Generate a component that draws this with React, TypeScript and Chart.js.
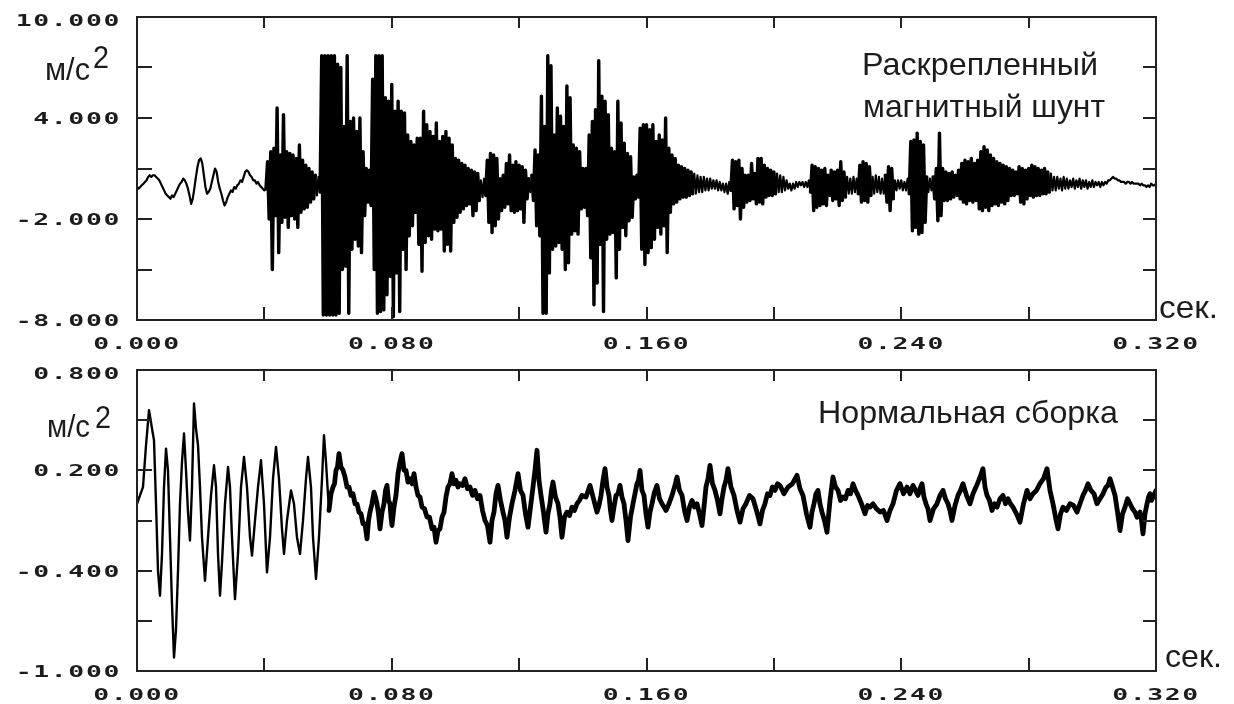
import { useEffect, useRef } from "react";
import { Chart, registerables } from "chart.js";

Chart.register(...registerables);

// ---------- data ----------
const SAMPLE_STEP = 0.0005; // s, sampling step of the upper record

// Upper record ("Раскрепленный магнитный шунт"), m/s², 0.04 s per block
const topSeg0 = [-0.1,-0.2,-0.1,0.0,0.1, 0.2,0.3,0.5,0.6,0.5, 0.6,0.6,0.5,0.4,0.3, 0.1,-0.1,-0.3,-0.5,-0.6, -0.7,-0.8,-0.6,-0.7,-0.5, -0.3,-0.1,0.1,0.2,0.4, 0.3,0.1,-0.2,-0.6,-1.1, -0.8,-0.2,0.5,1.1,1.5, 1.6,1.3,0.6,-0.1,-0.5, -0.4,-0.2,0.2,0.6,1.0, 0.8,0.2,-0.2,-0.5,-0.9, -1.2,-1.0,-0.7,-0.5,-0.3, -0.4,-0.1,-0.2,0.0,0.1, 0.3,0.2,0.5,0.8,0.9, 0.8,0.6,0.5,0.3,0.3, 0.1,0.2,0.0,-0.1,-0.2];
const topSeg1 = [-0.3,-0.2,1.4,-2.0,2.0,-5.0,2.2,-1.8,4.6,-4.0, 1.8,-2.2,4.2,-1.9,2.0,-2.5,1.9,-1.8,1.8,-2.0, 1.6,-2.5,2.4,-1.6,1.5,-1.4,1.2,-1.3,1.0,-1.0, 0.8,-0.8,0.6,-0.6,0.5,-0.4,7.7,-7.7,7.7,-7.7, 7.7,-7.7,7.7,-7.7,7.7,-7.7,7.2,-7.6,7.0,-5.0, 3.5,-4.8,7.7,-7.6,3.8,-3.8,4.0,-3.2,3.2,-3.6, 4.0,-4.0,2.0,-1.8,1.0,-1.0,0.9,-1.2,6.3,-5.0, 7.7,-7.6,7.7,-7.5,7.7,-7.4,5.2,-6.5,5.0,-5.4];
const topSeg2 = [6.0,-7.8,4.4,-5.2,5.0,-7.5,4.4,-3.8,4.3,-5.0, 3.0,-3.0,2.6,-2.4,2.4,-1.6,2.8,-3.5,2.8,-5.1, 4.4,-3.4,3.6,-3.0,3.2,-3.2,2.9,-2.6,3.7,-2.7, 2.6,-2.6,2.9,-3.9,3.2,-3.5,2.8,-3.9,2.4,-2.2, 1.6,-1.9,1.5,-1.6,1.3,-1.4,1.2,-1.2,1.0,-1.1, 0.9,-1.8,0.8,-1.5,0.7,-0.9,0.3,-0.7,0.4,-0.6, 1.5,-2.2,1.9,-2.8,1.8,-2.4,1.6,-2.0,0.4,-1.5, 0.6,-1.3,1.3,-1.1,1.8,-1.5,1.2,-1.6,1.4,-1.5];
const topSeg3 = [1.2,-1.4,1.1,-2.2,0.9,-0.8,0.4,-0.4,0.6,-0.9, 2.1,-2.4,1.8,-3.0,5.3,-7.6,3.5,-7.6,7.7,-5.2, 7.1,-3.8,3.0,-3.6,4.6,-3.4,4.1,-3.8,3.5,-5.0, 5.9,-4.6,5.2,-2.9,2.4,-2.7,2.2,-2.9,2.0,-1.4, 1.0,-1.3,1.0,-1.8,3.0,-4.3,3.8,-7.1,4.5,-5.8, 7.4,-3.5,5.3,-7.5,5.0,-3.2,4.2,-2.9,2.2,-2.8, 2.0,-5.5,5.0,-3.8,3.7,-2.5,2.5,-3.0,1.9,-2.1, 1.7,-1.9,0.5,-0.8,0.6,-0.7,3.4,-3.8,3.6,-4.7];
const topSeg4 = [3.6,-4.0,3.3,-3.7,3.6,-3.2,2.6,-2.5,3.0,-2.9, 2.7,-2.4,4.0,-4.0,2.2,-1.6,1.8,-1.1,1.6,-1.0, 1.2,-0.8,1.1,-0.7,1.0,-0.7,0.9,-0.6,0.8,-0.5, 0.7,-0.5,0.6,-0.4,0.5,-0.4,0.5,-0.3,0.4,-0.3, 0.4,-0.2,0.3,-0.2,0.3,-0.3,0.2,-0.3,0.1,-0.4, 0.1,-0.5,0.2,-0.3,1.5,-1.4,1.4,-1.2,1.5,-2.0, 1.0,-1.3,0.6,-1.0,0.6,-0.9,1.3,-0.8,0.7,-1.1, 1.6,-1.0,1.6,-1.1,1.2,-0.7,1.0,-0.6,0.9,-0.6];
const topSeg5 = [0.8,-0.5,0.7,-0.4,0.6,-0.4,0.5,-0.3,0.3,-0.2, 0.1,-0.3,0.1,-0.2,0.2,-0.1,0.2,0.0,0.2,-0.1, 0.2,-0.1,0.3,-0.4,1.2,-1.5,1.1,-1.3,1.0,-1.2, 0.9,-1.1,1.0,-1.2,0.6,-0.6,0.9,-0.9,0.8,-0.8, 0.9,-1.2,1.4,-0.9,0.8,-0.7,0.5,-0.5,0.4,-0.5, 0.5,-0.4,0.4,-0.5,1.2,-1.0,1.4,-0.9,1.3,-1.0, 1.1,-0.6,0.5,-0.5,0.6,-0.4,0.5,-0.5,0.4,-0.5, 0.6,-1.0,1.1,-1.5,1.0,-0.8,0.3,-0.3,0.3,-0.2];
const topSeg6 = [0.3,-0.3,0.2,-0.3,0.4,-0.5,2.6,-2.7,2.7,-2.5, 3.1,-2.9,2.6,-2.8,2.4,-2.2,0.5,-0.4,0.4,-0.3, 0.5,-0.8,1.0,-2.1,3.1,-1.8,1.0,-0.9,0.8,-0.9, 0.7,-0.8,0.8,-0.7,0.6,-0.6,0.9,-0.8,1.3,-1.0, 1.5,-1.1,1.4,-0.9,1.6,-1.0,1.3,-0.9,1.5,-1.4, 2.0,-1.5,2.3,-1.3,2.1,-1.5,1.8,-1.2,1.6,-1.1, 1.4,-1.2,1.3,-1.0,1.2,-1.1,1.1,-0.9,1.0,-0.6, 0.9,-0.6,0.8,-0.5,1.1,-1.0,1.0,-1.1,0.9,-0.8];
const topSeg7 = [1.0,-0.6,1.2,-0.7,1.1,-0.6,1.0,-0.6,0.9,-0.5, 1.0,-0.5,0.8,-0.4,0.7,-0.3,0.5,-0.3,0.5,-0.2, 0.4,-0.3,0.5,-0.2,0.4,-0.2,0.3,-0.1,0.4,-0.2, 0.3,-0.1,0.4,-0.2,0.3,-0.1,0.3,-0.2,0.2,-0.1, 0.3,-0.1,0.2,0.0,0.2,-0.1,0.2,0.0,0.2,0.1, 0.3,0.3,0.4,0.5,0.4,0.4,0.3,0.3,0.2,0.2, 0.2,0.1,0.2,0.2,0.1,0.2,0.1,0.1,0.1,0.1, 0.0,0.1,0.0,0.0,-0.1,0.0,-0.1,0.1,0.0,0.0,0.1];

// Lower record ("Нормальная сборка"): decaying impact part, time s / value m/s²
const bottomTimesA = [0,0.00094,0.00188,0.00283,0.00377,0.00471,0.00534,0.00597,0.00659,0.00722,0.00785,0.00848,0.00911,0.00973,0.01036,0.01099,0.01162,0.01225,0.01288,0.0135,0.01413,0.01476,0.01539,0.01602,0.01664,0.01727,0.0179,0.01853,0.01916,0.01978,0.02041,0.02135,0.0223,0.02324,0.02418,0.02481,0.02544,0.02606,0.02669,0.02763,0.02858,0.0292,0.02983,0.03077,0.03172,0.03266,0.0336,0.03454,0.03549,0.03611,0.03706,0.038,0.03894,0.03988,0.04082,0.04177,0.04271,0.04365,0.04459,0.04553,0.04616,0.0471,0.04836,0.0493,0.05024,0.05119,0.05213,0.05307,0.0537,0.05464,0.05527,0.05621,0.05715,0.0581,0.05872,0.05935,0.06029];
const bottomValuesA = [0.0,0.05,0.1,0.35,0.56,0.45,0.38,0.0,-0.4,-0.55,-0.3,0.1,0.33,0.2,-0.2,-0.6,-0.92,-0.75,-0.4,0.0,0.25,0.42,0.2,-0.05,-0.22,0.1,0.6,0.45,0.35,0.1,-0.2,-0.46,-0.2,0.05,0.23,0.1,-0.3,-0.55,-0.35,0.0,0.22,0.1,-0.2,-0.57,-0.3,0.1,0.28,0.1,-0.2,-0.31,-0.1,0.1,0.26,0.0,-0.41,-0.2,0.15,0.34,0.15,-0.15,-0.3,-0.1,0.08,0.0,-0.2,-0.3,-0.1,0.15,0.28,0.1,-0.2,-0.45,-0.2,0.15,0.41,0.25,-0.04];
// steady noisy part
const bottomTimesB = [0.06092,0.06155,0.06202,0.06249,0.06296,0.06343,0.06406,0.06469,0.06532,0.06595,0.06658,0.0672,0.06783,0.06846,0.06908,0.06971,0.07034,0.07097,0.0716,0.07223,0.0727,0.07317,0.0738,0.07443,0.0749,0.07537,0.07584,0.07631,0.07694,0.07757,0.07804,0.07851,0.07898,0.07945,0.07976,0.08008,0.0807,0.08133,0.08196,0.08259,0.08322,0.08385,0.08447,0.0851,0.08573,0.08636,0.08699,0.08762,0.08824,0.08887,0.0895,0.09028,0.09107,0.09185,0.09264,0.09327,0.0939,0.09452,0.09515,0.09578,0.09641,0.09703,0.09766,0.09829,0.09892,0.09955,0.10018,0.1008,0.10143,0.10222,0.103,0.10379,0.10457,0.10535,0.10614,0.10692,0.10771,0.10849,0.10928,0.11006,0.11085,0.11148,0.11211,0.11274,0.11336,0.11415,0.11494,0.11556,0.11619,0.11698,0.11776,0.1187,0.11965,0.12043,0.12122,0.122,0.12279,0.12357,0.12436,0.12498,0.12561,0.12624,0.12687,0.12765,0.12844,0.12906,0.12969,0.13016,0.13064,0.13142,0.13221,0.13283,0.13346,0.13425,0.13503,0.13581,0.1366,0.13738,0.13817,0.13895,0.13974,0.141,0.14226,0.14335,0.14445,0.14508,0.14571,0.14634,0.14697,0.14759,0.14822,0.14869,0.14916,0.14979,0.15042,0.15105,0.15168,0.1523,0.15293,0.15356,0.15419,0.15497,0.15576,0.15638,0.15701,0.15748,0.15796,0.15858,0.15921,0.15984,0.16047,0.16109,0.16172,0.16251,0.16329,0.16408,0.16487,0.1655,0.16612,0.16706,0.16801,0.1688,0.16958,0.17036,0.17115,0.17193,0.17272,0.1735,0.17429,0.17507,0.17586,0.17664,0.17743,0.17805,0.17868,0.17931,0.17994,0.18072,0.18151,0.18229,0.18308,0.18371,0.18434,0.18496,0.18559,0.18653,0.18748,0.18842,0.18936,0.1903,0.19124,0.19234,0.19344,0.19454,0.19564,0.19642,0.19721,0.19799,0.19878,0.19956,0.20035,0.20113,0.20192,0.20317,0.20443,0.20584,0.20726,0.2082,0.20914,0.21024,0.21134,0.21197,0.2126,0.21322,0.21385,0.21448,0.21511,0.21589,0.21668,0.21762,0.21856,0.21935,0.22014,0.22092,0.22171,0.22249,0.22328,0.22406,0.22485,0.22563,0.22642,0.22752,0.22861,0.2294,0.23018,0.23113,0.23223,0.23333,0.23442,0.23552,0.23647,0.23741,0.23851,0.23961,0.2407,0.2418,0.24275,0.24369,0.24447,0.24526,0.24589,0.24651,0.24714,0.24777,0.2484,0.24903,0.25013,0.25122,0.25217,0.25311,0.2539,0.25468,0.2553,0.25593,0.25688,0.25782,0.2586,0.25939,0.26049,0.26159,0.26253,0.26347,0.26457,0.26567,0.2663,0.26693,0.26771,0.2685,0.26928,0.27007,0.27101,0.27195,0.27274,0.27352,0.2743,0.27509,0.27619,0.27729,0.27839,0.27949,0.28043,0.28137,0.28247,0.28357,0.28467,0.28577,0.28671,0.28765,0.28844,0.28923,0.29001,0.2908,0.2919,0.29299,0.29409,0.29519,0.29613,0.29707,0.29786,0.29864,0.29958,0.30053,0.30147,0.30242,0.30336,0.3043,0.30493,0.30556,0.30635,0.30713,0.30792,0.3087,0.30949,0.31027,0.31106,0.31184,0.31262,0.31341,0.31404,0.31498,0.31545,0.31592,0.31655,0.31718,0.31765,0.31812,0.31859,0.31906,0.31953,0.32];
const bottomValuesB = [0.06,0.1,0.12,0.2,0.22,0.3,0.22,0.2,0.16,0.1,0.1,0.05,0.06,0.0,0.0,-0.05,-0.06,-0.12,-0.12,-0.21,-0.1,-0.05,0.0,0.07,0.04,0.0,-0.06,-0.15,-0.05,0.0,0.08,0.11,0.02,0.0,-0.08,-0.13,-0.02,0.05,0.18,0.25,0.3,0.2,0.2,0.13,0.15,0.12,0.18,0.1,0.05,0.04,-0.02,-0.03,-0.08,-0.08,-0.15,-0.14,-0.23,-0.16,-0.15,-0.08,-0.05,0.04,0.1,0.12,0.18,0.12,0.14,0.1,0.12,0.11,0.15,0.09,0.1,0.05,0.08,0.03,0.05,-0.04,-0.1,-0.13,-0.23,-0.1,-0.05,0.06,0.11,0.02,-0.05,-0.1,-0.2,-0.08,0.0,0.08,0.18,0.08,0.05,-0.06,-0.14,-0.02,0.1,0.2,0.32,0.14,0.05,-0.05,-0.17,-0.06,0.0,0.08,0.13,0.04,0.0,-0.08,-0.2,-0.08,-0.05,-0.07,-0.02,-0.04,0.0,0.02,0.05,0.04,0.11,0.03,-0.05,-0.01,0.05,0.14,0.21,0.1,0.05,-0.04,-0.1,-0.02,0.05,0.06,0.11,0.04,0.0,-0.1,-0.22,-0.08,0.0,0.06,0.12,0.14,0.2,0.08,0.05,-0.06,-0.14,-0.05,0.0,0.07,0.11,0.03,0.0,-0.02,-0.04,0.0,0.05,0.1,0.16,0.08,0.05,-0.04,-0.1,-0.02,0.02,-0.02,0.0,-0.06,-0.13,-0.02,0.1,0.15,0.23,0.12,0.08,0.02,-0.06,0.03,0.1,0.14,0.21,0.1,0.05,-0.04,-0.11,-0.03,0.0,0.05,0.03,-0.04,-0.12,-0.04,0.0,0.06,0.05,0.1,0.08,0.12,0.11,0.06,0.1,0.12,0.17,0.09,0.05,-0.06,-0.14,-0.05,0.0,0.06,0.08,0.0,-0.05,-0.1,-0.17,0.02,0.16,0.1,0.08,0.02,0.04,0.03,0.08,0.06,0.12,0.08,0.05,0.0,-0.06,-0.01,-0.02,0.0,-0.03,-0.05,-0.04,-0.1,-0.04,0.0,0.08,0.12,0.06,0.1,0.06,0.11,0.08,0.05,0.09,0.12,0.04,0.0,-0.03,-0.1,-0.03,0.0,0.05,0.08,0.03,0.0,-0.04,-0.1,-0.01,0.05,0.08,0.12,0.05,0.0,0.06,0.1,0.15,0.21,0.1,0.05,0.02,-0.04,0.0,-0.02,0.03,0.05,0.0,0.03,0.0,-0.02,-0.06,-0.11,0.0,0.08,0.03,0.06,0.08,0.12,0.15,0.21,0.08,0.0,-0.08,-0.15,-0.06,-0.02,-0.04,0.0,-0.01,-0.05,0.0,0.05,0.08,0.12,0.08,0.06,0.0,0.03,0.06,0.1,0.11,0.15,0.1,0.05,-0.05,-0.16,-0.06,-0.02,0.03,0.0,-0.03,-0.05,-0.08,-0.05,-0.1,-0.18,-0.06,0.0,0.04,0.06,0.02,0.04,0.06,0.08];

// Axes
const X_MIN = 0;
const X_MAX = 0.32;
const X_TICKS = [0, 0.04, 0.08, 0.12, 0.16, 0.2, 0.24, 0.28, 0.32];
const X_LABEL_VALUES = [0, 0.08, 0.16, 0.24, 0.32];
const X_LABELS = ["0.000", "0.080", "0.160", "0.240", "0.320"];

const TOP_Y_TICKS = [10, 7, 4, 1, -2, -5, -8];
const TOP_Y_LABEL_VALUES = [10, 4, -2, -8];
const TOP_Y_LABELS = ["10.000", "4.000", "-2.000", "-8.000"];

const BOTTOM_Y_TICKS = [0.8, 0.5, 0.2, -0.1, -0.4, -0.7, -1.0];
const BOTTOM_Y_LABEL_VALUES = [0.8, 0.2, -0.4, -1.0];
const BOTTOM_Y_LABELS = ["0.800", "0.200", "-0.400", "-1.000"];

const TOP_TITLE = ["Раскрепленный", "магнитный шунт"];
const BOTTOM_TITLE = "Нормальная сборка";
const UNIT_Y = "м/с";
const UNIT_Y_POW = "2";
const UNIT_X = "сек.";

// ---------- drawing helpers ----------
const INK = "#1c1c1c";

function wideText(ctx: CanvasRenderingContext2D, text: string, x: number, baseline: number, align: "right" | "center") {
  const SX = 1.65;
  ctx.save();
  ctx.font = 'bold 16px "DejaVu Sans Mono"';
  try { (ctx as any).letterSpacing = "1px"; } catch (e) {}
  ctx.textAlign = "left";
  ctx.textBaseline = "alphabetic";
  const w = ctx.measureText(text).width * SX;
  const x0 = align === "right" ? x - w : x - w / 2;
  ctx.translate(x0, baseline);
  ctx.scale(SX, 1);
  ctx.fillStyle = INK;
  ctx.fillText(text, 0, 0);
  ctx.restore();
}

function fitText(ctx: CanvasRenderingContext2D, text: string, font: string, x: number, baseline: number, width: number) {
  ctx.save();
  ctx.font = font;
  ctx.textAlign = "left";
  ctx.textBaseline = "alphabetic";
  const m = ctx.measureText(text).width;
  ctx.translate(x, baseline);
  ctx.scale(width / m, 1);
  ctx.fillStyle = INK;
  ctx.fillText(text, 0, 0);
  ctx.restore();
}

type Deco = {
  oy: number;
  yTicks: number[];
  yLabelValues: number[];
  yLabels: string[];
  texts: { t: string; font: string; x: number; b: number; w: number }[];
};

function framePlugin(deco: Deco) {
  return {
    id: "frame" + deco.oy,
    afterDraw(chart: any) {
      const ctx: CanvasRenderingContext2D = chart.ctx;
      const { left, right, top, bottom } = chart.chartArea;
      const xs = chart.scales.x;
      const ys = chart.scales.y;
      ctx.save();
      ctx.strokeStyle = "#222";
      ctx.lineWidth = 2;
      ctx.strokeRect(left, top, right - left, bottom - top);
      ctx.beginPath();
      for (const v of X_TICKS) {
        const px = Math.round(xs.getPixelForValue(v));
        if (px <= left + 2 || px >= right - 2) continue;
        ctx.moveTo(px, top);
        ctx.lineTo(px, top + 11);
        ctx.moveTo(px, bottom);
        ctx.lineTo(px, bottom - 13);
      }
      for (const v of deco.yTicks) {
        const py = Math.round(ys.getPixelForValue(v));
        if (py <= top + 2 || py >= bottom - 2) continue;
        ctx.moveTo(left, py);
        ctx.lineTo(left + 15, py);
        ctx.moveTo(right, py);
        ctx.lineTo(right - 13, py);
      }
      ctx.stroke();
      ctx.restore();

      X_LABEL_VALUES.forEach((v, i) => {
        wideText(ctx, X_LABELS[i], xs.getPixelForValue(v), bottom + 29, "center");
      });
      deco.yLabelValues.forEach((v, i) => {
        const py = ys.getPixelForValue(v);
        wideText(ctx, deco.yLabels[i], 121, Math.max(py + 6, top + 9), "right");
      });
      for (const tx of deco.texts) {
        fitText(ctx, tx.t, tx.font, tx.x, tx.b - deco.oy, tx.w);
      }
    },
  };
}

function makeChart(canvas: HTMLCanvasElement, points: { x: number; y: number }[], yMin: number, yMax: number,
  pad: { left: number; right: number; top: number; bottom: number }, deco: Deco,
  baseWidth: number, width: (c: any) => number) {
  return new Chart(canvas, {
    type: "line",
    data: {
      datasets: [
        {
          data: points,
          borderColor: "#000",
          borderWidth: baseWidth,
          borderJoinStyle: "round",
          borderCapStyle: "round",
          pointRadius: 0,
          fill: false,
          tension: 0,
          segment: { borderWidth: width },
        } as any,
      ],
    },
    options: {
      animation: false,
      responsive: false,
      events: [],
      layout: { padding: pad },
      scales: {
        x: { type: "linear", min: X_MIN, max: X_MAX, display: false },
        y: { type: "linear", min: yMin, max: yMax, display: false },
      },
      plugins: { legend: { display: false }, tooltip: { enabled: false }, title: { display: false } },
    },
    plugins: [framePlugin(deco)],
  });
}

export default function App() {
  const topRef = useRef<HTMLCanvasElement>(null);
  const botRef = useRef<HTMLCanvasElement>(null);

  useEffect(() => {
    const topValues = [...topSeg0, ...topSeg1, ...topSeg2, ...topSeg3, ...topSeg4, ...topSeg5, ...topSeg6, ...topSeg7];
    const topPoints = topValues.map((v, i) => ({ x: i * SAMPLE_STEP, y: v }));
    const bTimes = [...bottomTimesA, ...bottomTimesB];
    const bValues = [...bottomValuesA, ...bottomValuesB];
    const botPoints = bTimes.map((t, i) => ({ x: t, y: bValues[i] }));

    const c1 = makeChart(topRef.current!, topPoints, -8, 10, { left: 137, right: 78, top: 17, bottom: 32 }, {
      oy: 0,
      yTicks: TOP_Y_TICKS,
      yLabelValues: TOP_Y_LABEL_VALUES,
      yLabels: TOP_Y_LABELS,
      texts: [
        { t: UNIT_Y, font: '31px "Liberation Sans"', x: 45, b: 80, w: 45 },
        { t: UNIT_Y_POW, font: '32px "Liberation Sans"', x: 93, b: 68, w: 16 },
        { t: TOP_TITLE[0], font: '32px "Liberation Sans"', x: 862, b: 75, w: 236 },
        { t: TOP_TITLE[1], font: '32px "Liberation Sans"', x: 863, b: 117, w: 242 },
        { t: UNIT_X, font: '32px "Liberation Sans"', x: 1159, b: 318, w: 59 },
      ],
    }, 2.2, (c: any) => (Math.abs(c.p1.parsed.y - c.p0.parsed.y) > 1.2 ? 3.4 : 2.2));

    const c2 = makeChart(botRef.current!, botPoints, -1.0, 0.8, { left: 137, right: 78, top: 18, bottom: 33 }, {
      oy: 352,
      yTicks: BOTTOM_Y_TICKS,
      yLabelValues: BOTTOM_Y_LABEL_VALUES,
      yLabels: BOTTOM_Y_LABELS,
      texts: [
        { t: UNIT_Y, font: '31px "Liberation Sans"', x: 47, b: 437, w: 43 },
        { t: UNIT_Y_POW, font: '32px "Liberation Sans"', x: 95, b: 428, w: 16 },
        { t: BOTTOM_TITLE, font: '32px "Liberation Sans"', x: 818, b: 423, w: 300 },
        { t: UNIT_X, font: '32px "Liberation Sans"', x: 1165, b: 667, w: 57 },
      ],
    }, 2.4, (c: any) => (c.p0.parsed.x < 0.06 ? 2.4 : 4.8));

    return () => {
      c1.destroy();
      c2.destroy();
    };
  }, []);

  return (
    <div style={{ position: "fixed", left: 0, top: 0, width: 1234, height: 704, background: "#fff" }}>
      <canvas ref={topRef} width={1234} height={352} style={{ position: "absolute", left: 0, top: 0, width: 1234, height: 352 }} />
      <canvas ref={botRef} width={1234} height={352} style={{ position: "absolute", left: 0, top: 352, width: 1234, height: 352 }} />
    </div>
  );
}
